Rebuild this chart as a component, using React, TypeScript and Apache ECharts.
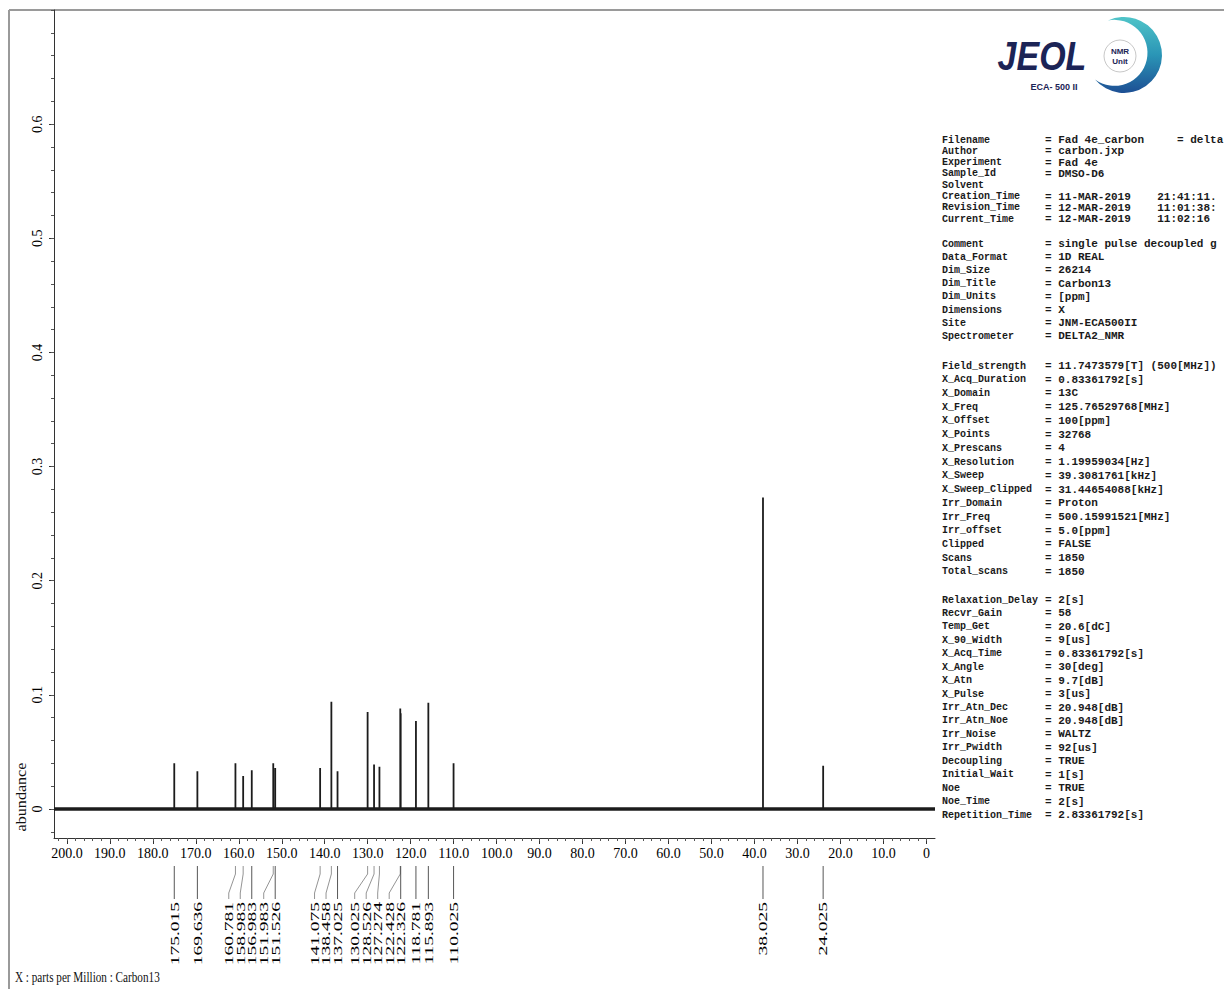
import React, { useEffect, useRef } from "react";
import * as echarts from "echarts";

// ---- data ----
const peakPpm = [175.015, 169.636, 160.781, 158.983, 156.983, 151.983, 151.526, 141.075, 138.458, 137.025, 130.025, 128.526, 127.274, 122.428, 122.326, 118.781, 115.893, 110.025, 38.025, 24.025];
const peakHeight = [0.040, 0.033, 0.040, 0.029, 0.034, 0.040, 0.036, 0.036, 0.094, 0.033, 0.085, 0.039, 0.037, 0.088, 0.084, 0.077, 0.093, 0.040, 0.273, 0.038];
const xMajorTicks = [200, 190, 180, 170, 160, 150, 140, 130, 120, 110, 100, 90, 80, 70, 60, 50, 40, 30, 20, 10, 0];
const yMajorTicks = [0, 0.1, 0.2, 0.3, 0.4, 0.5, 0.6];
const X_MIN = -2;
const X_MAX = 203;
const Y_MIN = -0.0254;
const Y_MAX = 0.7;

const paramsA: [string, string][] = [
  ["Filename", "= Fad 4e_carbon     = delta"],
  ["Author", "= carbon.jxp"],
  ["Experiment", "= Fad 4e"],
  ["Sample_Id", "= DMSO-D6"],
  ["Solvent", ""],
  ["Creation_Time", "= 11-MAR-2019    21:41:11."],
  ["Revision_Time", "= 12-MAR-2019    11:01:38:"],
  ["Current_Time", "= 12-MAR-2019    11:02:16"],
];
const paramsB: [string, string][] = [
  ["Comment", "= single pulse decoupled g"],
  ["Data_Format", "= 1D REAL"],
  ["Dim_Size", "= 26214"],
  ["Dim_Title", "= Carbon13"],
  ["Dim_Units", "= [ppm]"],
  ["Dimensions", "= X"],
  ["Site", "= JNM-ECA500II"],
  ["Spectrometer", "= DELTA2_NMR"],
];
const paramsC: [string, string][] = [
  ["Field_strength", "= 11.7473579[T] (500[MHz])"],
  ["X_Acq_Duration", "= 0.83361792[s]"],
  ["X_Domain", "= 13C"],
  ["X_Freq", "= 125.76529768[MHz]"],
  ["X_Offset", "= 100[ppm]"],
  ["X_Points", "= 32768"],
  ["X_Prescans", "= 4"],
  ["X_Resolution", "= 1.19959034[Hz]"],
  ["X_Sweep", "= 39.3081761[kHz]"],
  ["X_Sweep_Clipped", "= 31.44654088[kHz]"],
  ["Irr_Domain", "= Proton"],
  ["Irr_Freq", "= 500.15991521[MHz]"],
  ["Irr_offset", "= 5.0[ppm]"],
  ["Clipped", "= FALSE"],
  ["Scans", "= 1850"],
  ["Total_scans", "= 1850"],
];
const paramsD: [string, string][] = [
  ["Relaxation_Delay", "= 2[s]"],
  ["Recvr_Gain", "= 58"],
  ["Temp_Get", "= 20.6[dC]"],
  ["X_90_Width", "= 9[us]"],
  ["X_Acq_Time", "= 0.83361792[s]"],
  ["X_Angle", "= 30[deg]"],
  ["X_Atn", "= 9.7[dB]"],
  ["X_Pulse", "= 3[us]"],
  ["Irr_Atn_Dec", "= 20.948[dB]"],
  ["Irr_Atn_Noe", "= 20.948[dB]"],
  ["Irr_Noise", "= WALTZ"],
  ["Irr_Pwidth", "= 92[us]"],
  ["Decoupling", "= TRUE"],
  ["Initial_Wait", "= 1[s]"],
  ["Noe", "= TRUE"],
  ["Noe_Time", "= 2[s]"],
  ["Repetition_Time", "= 2.83361792[s]"],
];

// crescent swoosh of the logo (local coordinates, centre at 0,0)
const CRESCENT = "M -16 -34.5 A 38 38 0 1 1 -29 24.5 A 33 33 0 1 0 -16 -34.5 Z";
let registered = false;

export default function App() {
  const ref = useRef<HTMLDivElement>(null);

  useEffect(() => {
    if (!registered) {
      echarts.graphic.registerShape("nmrCrescent", echarts.graphic.extendPath(CRESCENT, {}));
      registered = true;
    }
    const chart = echarts.init(ref.current!, null, { renderer: "svg" });

    const order = peakPpm.map((_, i) => i).sort((a, b) => peakPpm[b] - peakPpm[a]);
    const spectrum: number[][] = [];
    order.forEach((i) => {
      spectrum.push([peakPpm[i], 0], [peakPpm[i], peakHeight[i]], [peakPpm[i], 0]);
    });

    const minorX: number[] = [];
    for (let v = 0; v <= 202; v += 2) minorX.push(v);
    const minorY: number[] = [];
    for (let k = -1; k <= 35; k++) minorY.push(Math.round(k * 2) / 100);

    const serif = '"Liberation Serif", "Times New Roman", serif';

    chart.setOption({
      animation: false,
      grid: { left: 54, right: 289, top: 10, bottom: 151 },
      xAxis: [
        {
          type: "value",
          inverse: true,
          min: X_MIN,
          max: X_MAX,
          position: "bottom",
          axisLine: { show: true, onZero: false, lineStyle: { color: "#333", width: 1 } },
          axisTick: { show: true, length: 6, customValues: xMajorTicks, lineStyle: { color: "#333" } },
          axisLabel: {
            show: true,
            customValues: xMajorTicks,
            margin: 8,
            fontFamily: serif,
            fontSize: 14,
            color: "#000",
            formatter: (v: number) => (v === 0 ? "0" : v.toFixed(1)),
          },
          splitLine: { show: false },
        },
        {
          type: "value",
          inverse: true,
          min: X_MIN,
          max: X_MAX,
          position: "bottom",
          offset: 0,
          axisLine: { show: false, onZero: false },
          axisTick: { show: true, length: 3, customValues: minorX, lineStyle: { color: "#555" } },
          axisLabel: { show: false },
          splitLine: { show: false },
        },
      ],
      yAxis: [
        {
          type: "value",
          min: Y_MIN,
          max: Y_MAX,
          position: "left",
          axisLine: { show: true, onZero: false, lineStyle: { color: "#333", width: 1 } },
          axisTick: { show: true, length: 5, customValues: yMajorTicks, lineStyle: { color: "#333" } },
          axisLabel: {
            show: true,
            customValues: yMajorTicks,
            rotate: 90,
            margin: 10,
            fontFamily: serif,
            fontSize: 14,
            color: "#000",
            formatter: (v: number) => (v === 0 ? "0" : String(Number(v.toFixed(1)))),
          },
          splitLine: { show: false },
        },
        {
          type: "value",
          min: Y_MIN,
          max: Y_MAX,
          position: "left",
          offset: 0,
          axisLine: { show: false, onZero: false },
          axisTick: { show: true, length: 3, customValues: minorY, lineStyle: { color: "#555" } },
          axisLabel: { show: false },
          splitLine: { show: false },
        },
      ],
      series: [
        {
          type: "line",
          xAxisIndex: 0,
          yAxisIndex: 0,
          data: [[X_MAX, 0], [X_MIN, 0]],
          showSymbol: false,
          silent: true,
          lineStyle: { color: "#1c1c1c", width: 3.5 },
          z: 2,
        },
        {
          type: "line",
          xAxisIndex: 0,
          yAxisIndex: 0,
          data: spectrum,
          showSymbol: false,
          silent: true,
          lineStyle: { color: "#1c1c1c", width: 1.8 },
          z: 3,
        },
      ],
    });

    // ---- annotations computed through the chart's own scale ----
    const g: any[] = [];
    const frameStroke = { stroke: "#9a9a9a", lineWidth: 2 };
    g.push({ type: "line", shape: { x1: 9, y1: 10, x2: 1224, y2: 10 }, style: frameStroke, silent: true });
    g.push({ type: "line", shape: { x1: 9, y1: 10, x2: 9, y2: 989 }, style: frameStroke, silent: true });

    // peak labels
    const px = peakPpm.map((p) => chart.convertToPixel({ xAxisIndex: 0 }, p) as number);
    const byX = peakPpm.map((_, i) => i).sort((a, b) => px[b] - px[a]);
    const lx: number[] = new Array(peakPpm.length);
    let prev = Infinity;
    byX.forEach((i) => {
      const v = Math.min(px[i], prev - 11.5);
      lx[i] = v;
      prev = v;
    });
    peakPpm.forEach((p, i) => {
      const straight = Math.abs(px[i] - lx[i]) < 0.5;
      g.push({
        type: "polyline",
        silent: true,
        shape: {
          points: straight
            ? [[px[i], 866], [px[i], 899]]
            : [[px[i], 866], [px[i], 874], [lx[i], 893], [lx[i], 899]],
        },
        style: { stroke: straight ? "#444" : "#888", lineWidth: 0.9, fill: null },
      });
      g.push({
        type: "text",
        x: lx[i],
        y: 902,
        rotation: Math.PI / 2,
        scaleX: 1.5,
        silent: true,
        style: {
          text: p.toFixed(3),
          font: '13px "Liberation Serif"',
          fill: "#000",
          align: "right",
          verticalAlign: "middle",
        },
      });
    });

    g.push({
      type: "text",
      x: 21,
      y: 797,
      rotation: Math.PI / 2,
      scaleX: 1.15,
      silent: true,
      style: { text: "abundance", font: '14px "Liberation Serif"', fill: "#111", align: "center", verticalAlign: "middle" },
    });
    g.push({
      type: "text",
      x: 15,
      y: 978,
      scaleX: 0.8,
      silent: true,
      style: { text: "X : parts per Million : Carbon13", font: '14px "Liberation Serif"', fill: "#111", align: "left", verticalAlign: "middle" },
    });

    // logo
    g.push({
      type: "nmrCrescent",
      x: 1124,
      y: 55,
      silent: true,
      style: {
        fill: new echarts.graphic.LinearGradient(0, 0, 0, 1, [
          { offset: 0, color: "#4fc4c8" },
          { offset: 0.5, color: "#2a95b6" },
          { offset: 1, color: "#1d4f94" },
        ]),
      },
    });
    g.push({
      type: "circle",
      silent: true,
      shape: { cx: 1120, cy: 56, r: 16 },
      style: { fill: "#ffffff", stroke: "#c8c8c8", lineWidth: 1 },
    });
    g.push({
      type: "text",
      x: 1120,
      y: 51,
      silent: true,
      style: { text: "NMR", font: 'bold 8px "Liberation Sans"', fill: "#1c2456", align: "center", verticalAlign: "middle" },
    });
    g.push({
      type: "text",
      x: 1120,
      y: 61,
      silent: true,
      style: { text: "Unit", font: 'bold 8px "Liberation Sans"', fill: "#1c2456", align: "center", verticalAlign: "middle" },
    });
    g.push({
      type: "text",
      x: 1042,
      y: 56,
      scaleX: 0.85,
      silent: true,
      style: { text: "JEOL", font: 'italic bold 40px "Liberation Sans"', fill: "#1c2456", align: "center", verticalAlign: "middle" },
    });
    g.push({
      type: "text",
      x: 1054,
      y: 87,
      silent: true,
      style: { text: "ECA- 500 II", font: 'bold 9px "Liberation Sans"', fill: "#1c2456", align: "center", verticalAlign: "middle" },
    });

    // parameter list
    const addGroup = (rows: [string, string][], y0: number, step: number) => {
      rows.forEach(([k, v], i) => {
        const y = y0 + i * step;
        g.push({
          type: "text",
          x: 942,
          y,
          silent: true,
          style: { text: k, font: 'bold 10px "Liberation Mono"', fill: "#1a1a1a", align: "left", verticalAlign: "middle" },
        });
        if (v) {
          g.push({
            type: "text",
            x: 1045,
            y,
            silent: true,
            style: { text: v, font: 'bold 11px "Liberation Mono"', fill: "#1a1a1a", align: "left", verticalAlign: "middle" },
          });
        }
      });
    };
    addGroup(paramsA, 140, 11.3);
    addGroup(paramsB, 244, 13.2);
    addGroup(paramsC, 366, 13.73);
    addGroup(paramsD, 600, 13.44);

    chart.setOption({ graphic: { elements: g } });

    return () => chart.dispose();
  }, []);

  return (
    <div
      ref={ref}
      style={{ position: "fixed", left: 0, top: 0, width: 1224, height: 989, background: "#ffffff" }}
    />
  );
}
